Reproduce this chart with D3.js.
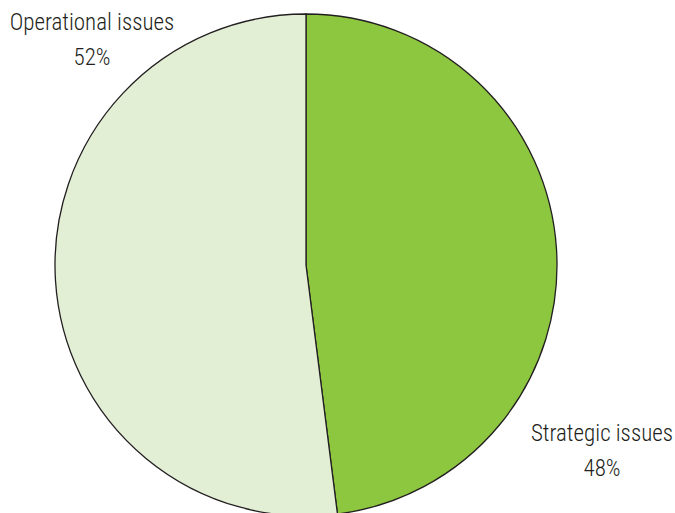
<!DOCTYPE html>
<html>
<head>
<meta charset="utf-8">
<script src="https://cdn.jsdelivr.net/npm/d3@7"></script>
<style>
  html, body { margin: 0; padding: 0; background: #fff; }
  svg { display: block; }
  text { font-family: "Roboto Condensed", "Liberation Sans Narrow", sans-serif; font-weight: 300; fill: #231f20; }
</style>
</head>
<body>
<svg id="chart" width="675" height="513"></svg>
<script>
// Share of issues by type (percent)
const categories = ["Strategic issues", "Operational issues"];
const values = [48, 52];
const colors = ["#8dc63f", "#e2efd5"];

const svg = d3.select("#chart");
const cx = 306, cy = 265, radius = 251;

const pie = d3.pie().sort(null).value(d => d.value);
const arcs = pie(categories.map((c, i) => ({ name: c, value: values[i], color: colors[i] })));
const arc = d3.arc().innerRadius(0).outerRadius(radius);

const g = svg.append("g").attr("transform", `translate(${cx},${cy})`);
g.selectAll("path")
  .data(arcs)
  .join("path")
  .attr("d", arc)
  .attr("fill", d => d.data.color)
  .attr("stroke", "#231f20")
  .attr("stroke-width", 1.3);

// Labels placed outside the pie
const labelPos = {
  "Strategic issues": { x: 602, y: 441 },
  "Operational issues": { x: 92, y: 30 }
};
arcs.forEach(d => {
  const p = labelPos[d.data.name];
  const t = svg.append("text")
    .attr("x", p.x).attr("y", p.y)
    .attr("text-anchor", "middle")
    .style("font-size", "23px");
  t.append("tspan").attr("x", p.x).text(d.data.name);
  t.append("tspan").attr("x", p.x).attr("dy", 35).text(d3.format("d")(d.data.value) + "%");
});
</script>
</body>
</html>
